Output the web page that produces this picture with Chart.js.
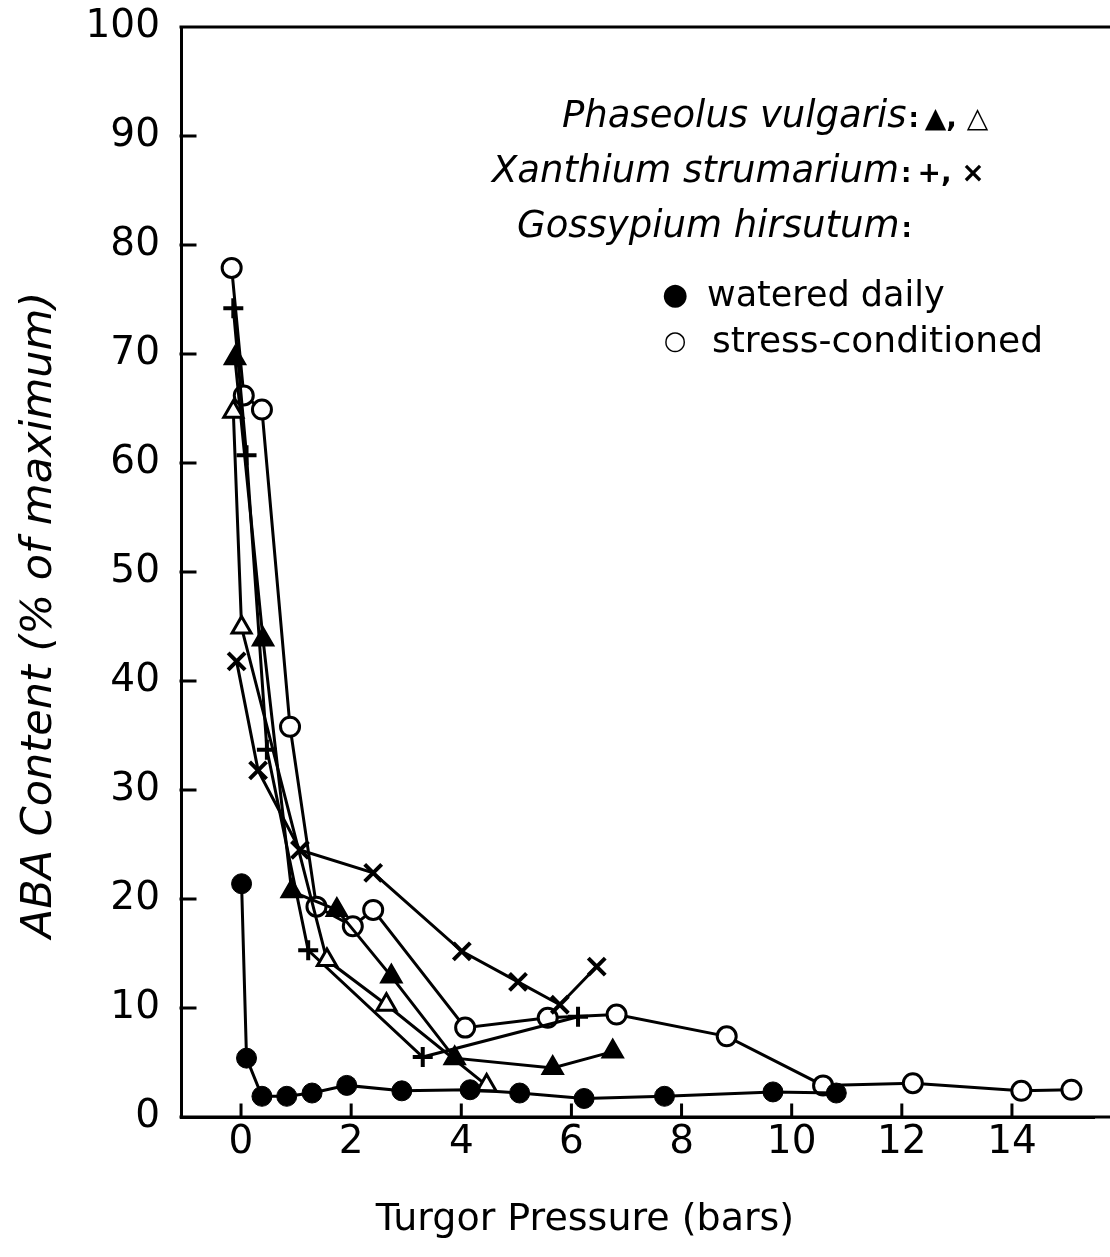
<!DOCTYPE html>
<html>
<head>
<meta charset="utf-8">
<script src="https://cdn.jsdelivr.net/npm/chart.js@4.4.1/dist/chart.umd.min.js"></script>
<style>
  html, body { margin: 0; padding: 0; background: #fff; }
  #wrap { width: 1110px; height: 1257px; }
</style>
</head>
<body>
<div id="wrap"><canvas id="grafico" width="1110" height="1257"></canvas></div>
<script>
// turgor pressure (bars) / ABA content (% of maximum)
const phaseolusWateredX = [-0.11, 0.40, 0.92, 1.74, 2.73, 3.88, 5.66, 6.75];
const phaseolusWateredY = [69.6, 43.8, 20.7, 19.0, 12.9, 5.4, 4.5, 6.0];
const phaseolusStressX = [-0.14, 0.01, 1.56, 2.64, 4.46];
const phaseolusStressY = [64.7, 44.9, 14.4, 10.3, 2.9];
const xanthiumWateredX = [-0.14, 0.10, 0.47, 1.22, 3.30, 6.12];
const xanthiumWateredY = [74.2, 60.7, 33.7, 15.3, 5.5, 9.2];
const xanthiumStressX = [-0.08, 0.31, 1.07, 2.40, 4.01, 5.03, 5.79, 6.46];
const xanthiumStressY = [41.8, 31.8, 24.5, 22.4, 15.2, 12.4, 10.3, 13.8];
const gossypiumWateredX = [0.01, 0.10, 0.38, 0.83, 1.29, 1.92, 2.92, 4.16, 5.06, 6.23, 7.69, 9.66, 10.81];
const gossypiumWateredY = [21.4, 5.4, 1.9, 1.9, 2.2, 2.9, 2.4, 2.5, 2.2, 1.7, 1.9, 2.3, 2.2];
const gossypiumStressX = [-0.17, 0.05, 0.38, 0.89, 1.37, 2.03, 2.40, 4.07, 5.57, 6.82, 8.82, 10.57, 12.2, 14.17, 15.08];
const gossypiumStressY = [77.9, 66.2, 64.9, 35.8, 19.3, 17.5, 19.0, 8.2, 9.1, 9.4, 7.4, 2.9, 3.1, 2.4, 2.5];

const xTicks = [0, 2, 4, 6, 8, 10, 12, 14];
const yTicks = [0, 10, 20, 30, 40, 50, 60, 70, 80, 90, 100];

const xTitle = "Turgor Pressure (bars)";
const yTitle = "ABA Content (% of maximum)";

const FONT = '"DejaVu Sans", sans-serif';
Chart.defaults.font.family = FONT;
Chart.defaults.color = "#000";

function pares(xs, ys) {
  return xs.map((v, i) => ({ x: v, y: ys[i] }));
}

function serie(xs, ys, estilo, raio, fill, borda) {
  return {
    data: pares(xs, ys),
    showLine: true,
    clip: false,
    borderColor: "#000",
    borderWidth: 3,
    tension: 0,
    pointStyle: estilo,
    pointRadius: raio,
    pointHoverRadius: raio,
    pointBackgroundColor: fill,
    pointBorderColor: "#000",
    pointBorderWidth: borda
  };
}

const moldura = {
  id: "moldura",
  beforeDatasetsDraw(chart) {
    const { ctx, chartArea: a, scales: { x, y } } = chart;
    ctx.save();
    ctx.strokeStyle = "#000";
    ctx.lineWidth = 3;
    ctx.lineCap = "square";
    ctx.beginPath();
    ctx.moveTo(a.left, a.top);
    ctx.lineTo(chart.width, a.top);
    ctx.moveTo(a.left, a.bottom);
    ctx.lineTo(chart.width, a.bottom);
    xTicks.forEach(v => {
      const px = x.getPixelForValue(v);
      ctx.moveTo(px, a.bottom);
      ctx.lineTo(px, a.bottom - 12);
    });
    yTicks.forEach(v => {
      const py = y.getPixelForValue(v);
      ctx.moveTo(a.left, py);
      ctx.lineTo(a.left + 14, py);
    });
    ctx.stroke();
    ctx.restore();
  },
  afterDraw(chart) {
    const { ctx } = chart;
    ctx.save();
    ctx.fillStyle = "#000";
    ctx.textBaseline = "middle";

    // axis titles
    ctx.textAlign = "center";
    ctx.font = "38px " + FONT;
    ctx.fillText(xTitle, 585, 1220);
    ctx.save();
    ctx.translate(40, 615);
    ctx.rotate(-Math.PI / 2);
    ctx.font = "italic 43px " + FONT;
    ctx.fillText(yTitle, 0, 0);
    ctx.restore();

    // key
    ctx.textAlign = "left";
    const especies = [
      ["Phaseolus vulgaris", 562, 117, "\u25B2, \u25B3"],
      ["Xanthium strumarium", 492, 172, "+, \u00D7"],
      ["Gossypium hirsutum", 517, 227, ""]
    ];
    especies.forEach(([nome, x0, y0, simb]) => {
      ctx.font = "italic 37px " + FONT;
      ctx.fillText(nome, x0, y0);
      let px = x0 + ctx.measureText(nome).width + 2;
      ctx.font = "bold 26px " + FONT;
      ctx.fillText(":", px, y0 + 3);
      px += ctx.measureText(":").width + 6;
      ctx.font = "bold 28px " + FONT;
      ctx.fillText(simb, px, y0 + 3);
    });
    ctx.font = "30px " + FONT;
    ctx.textAlign = "center";
    ctx.fillText("\u25CF", 675, 296);
    ctx.font = "bold 26px " + FONT;
    ctx.fillText("\u25CB", 675, 342);
    ctx.textAlign = "left";
    ctx.font = "35px " + FONT;
    ctx.fillText("watered daily", 707, 297);
    ctx.font = "36px " + FONT;
    ctx.fillText("stress-conditioned", 712, 343);
    ctx.restore();
  }
};

new Chart(document.getElementById("grafico"), {
  type: "scatter",
  data: {
    datasets: [
      serie(gossypiumWateredX, gossypiumWateredY, "circle", 10, "#000", 1),
      serie(phaseolusStressX, phaseolusStressY, "triangle", 11, "#fff", 3),
      serie(xanthiumStressX, xanthiumStressY, "crossRot", 12, "#000", 4),
      serie(xanthiumWateredX, xanthiumWateredY, "cross", 10, "#000", 4),
      serie(phaseolusWateredX, phaseolusWateredY, "triangle", 12, "#000", 2),
      serie(gossypiumStressX, gossypiumStressY, "circle", 9.5, "#fff", 3)
    ]
  },
  plugins: [moldura],
  options: {
    responsive: false,
    animation: false,
    events: [],
    layout: { padding: { top: 27, right: 0, left: 0, bottom: 0 } },
    plugins: { legend: { display: false }, tooltip: { enabled: false } },
    scales: {
      x: {
        type: "linear",
        min: -1.09,
        max: 15.49,
        afterFit: s => { s.height = 140; s.paddingLeft = 0; s.paddingRight = 0; },
        afterBuildTicks: s => { s.ticks = xTicks.map(v => ({ value: v })); },
        grid: { display: false, drawTicks: false },
        border: { display: true, color: "#000", width: 3 },
        ticks: { font: { size: 39 }, padding: 2, maxRotation: 0, color: "#000" }
      },
      y: {
        type: "linear",
        min: 0,
        max: 100,
        afterFit: s => { s.width = 181; s.paddingTop = 0; s.paddingBottom = 0; },
        afterBuildTicks: s => { s.ticks = yTicks.map(v => ({ value: v })); },
        grid: { display: false, drawTicks: false },
        border: { display: true, color: "#000", width: 3 },
        ticks: { font: { size: 39 }, padding: 21, color: "#000" }
      }
    }
  }
});
</script>
</body>
</html>
